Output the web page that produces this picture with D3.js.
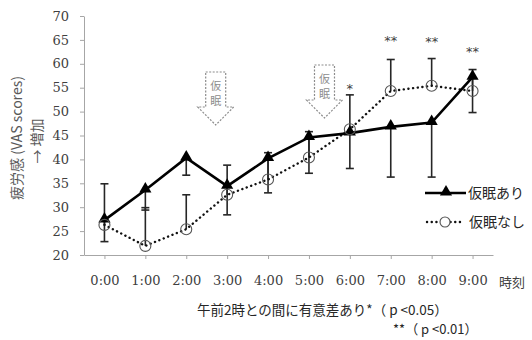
<!DOCTYPE html>
<html><head><meta charset="utf-8">
<script src="https://cdn.jsdelivr.net/npm/d3@7"></script>
<style>
body{margin:0;background:#fff;}
svg{display:block;}
</style></head>
<body><svg id="c" width="532" height="340"></svg>
<script>
const times = ["0:00","1:00","2:00","3:00","4:00","5:00","6:00","7:00","8:00","9:00"];
const napValues   = [27.3, 33.6, 40.3, 34.4, 40.2, 44.6, 45.5, 46.8, 47.7, 57.2];
const napLower    = [22.8, 29.4, 36.7, 28.4, 33.0, 37.1, 38.1, 36.3, 36.3, 49.8];
const noNapValues = [26.3, 21.9, 25.4, 32.6, 35.8, 40.4, 46.3, 54.3, 55.4, 54.3];
const noNapUpper  = [34.9, 29.9, 32.6, 38.8, 41.4, 45.8, 53.5, 60.9, 61.1, 58.8];
const yTicks = [20,25,30,35,40,45,50,55,60,65,70];
const sigMarks = [{t:"6:00", label:"*", v:55.6},{t:"7:00", label:"**", v:65.6},{t:"8:00", label:"**", v:65.4},{t:"9:00", label:"**", v:63.3}];
const napTimes = ["2:00","5:00"]; // nap arrows placed after these times
const seriesNames = ["仮眠あり","仮眠なし"];

const svg = d3.select("#c");
const x = d3.scalePoint().domain(times).range([84, 493]).padding(0.5);
const y = d3.scaleLinear().domain([20,70]).range([255, 16]);

const serif = "'DejaVu Serif', 'Liberation Serif', serif";
const jp = "'Noto Sans CJK JP', sans-serif";
const axisCol = "#a6a6a6";

// Y axis
const ya = svg.append("g").attr("transform","translate(84,0)")
  .call(d3.axisLeft(y).tickValues(yTicks).tickSize(4).tickSizeOuter(0).tickPadding(11));
ya.select(".domain").attr("stroke", axisCol);
ya.selectAll(".tick line").attr("stroke", axisCol);
ya.selectAll(".tick text").attr("font-family", serif).attr("font-size", 13).attr("fill","#404040");

// X axis
const xa = svg.append("g").attr("transform","translate(0,255)")
  .call(d3.axisBottom(x).tickSize(4).tickSizeOuter(0).tickPadding(17));
xa.select(".domain").attr("stroke", axisCol);
xa.selectAll(".tick line").attr("stroke", axisCol);
xa.selectAll(".tick text").attr("font-family", serif).attr("font-size", 13).attr("fill","#404040");

svg.append("text").attr("x", 512).attr("y", 287).attr("text-anchor","middle")
  .attr("font-family", jp).attr("font-size", 13).attr("fill","#404040").text("時刻");

// Y title
const yt = svg.append("g").attr("font-family", jp).attr("font-size", 14).attr("fill","#595959");
yt.append("text").attr("transform","translate(22,138) rotate(-90)").attr("text-anchor","middle").text("疲労感 (VAS scores)");
yt.append("text").attr("transform","translate(42,141) rotate(-90)").attr("text-anchor","middle").text("→ 増加");

// Nap arrows
napTimes.forEach((t,i)=>{
  const cx = x(t) + x.step()*(i===0 ? 0.72 : 0.38);
  const top = i===0 ? 72 : 65;
  const neck = i===0 ? 107 : 100;
  const tip = i===0 ? 125 : 118;
  const p = `M${cx-10},${top} L${cx+10},${top} L${cx+10},${neck} L${cx+18},${neck} L${cx},${tip} L${cx-18},${neck} L${cx-10},${neck} Z`;
  svg.append("path").attr("d", p).attr("fill","#fff").attr("stroke","#8c8c8c")
    .attr("stroke-width",1.2).attr("stroke-dasharray","2,1.5");
  svg.append("text").attr("x",cx).attr("y",top+18).attr("text-anchor","middle")
    .attr("font-family", jp).attr("font-size",11).attr("fill","#8c8c8c").text("仮");
  svg.append("text").attr("x",cx).attr("y",top+33).attr("text-anchor","middle")
    .attr("font-family", jp).attr("font-size",11).attr("fill","#8c8c8c").text("眠");
});

// Error bars
const eb = svg.append("g").attr("stroke","#262626").attr("stroke-width",1.6);
function errBar(t, v0, v1){
  const cx = x(t);
  eb.append("line").attr("x1",cx).attr("x2",cx).attr("y1",y(v0)).attr("y2",y(v1));
  eb.append("line").attr("x1",cx-4).attr("x2",cx+4).attr("y1",y(v1)).attr("y2",y(v1));
}
times.forEach((t,i)=>{ errBar(t, napValues[i], napLower[i]); errBar(t, noNapValues[i], noNapUpper[i]); });

// Lines
const line = d3.line().x(d=>x(d[0])).y(d=>y(d[1]));
svg.append("path").datum(times.map((t,i)=>[t,noNapValues[i]])).attr("d", line)
  .attr("fill","none").attr("stroke","#111").attr("stroke-width",2.4)
  .attr("stroke-dasharray","0.1,4.6").attr("stroke-linecap","round");
svg.append("path").datum(times.map((t,i)=>[t,napValues[i]])).attr("d", line)
  .attr("fill","none").attr("stroke","#000").attr("stroke-width",2.6);

// Markers
const tri = d3.symbol().type(d3.symbolTriangle).size(64);
svg.append("g").selectAll("path").data(times.map((t,i)=>[t,napValues[i]])).join("path")
  .attr("d", tri).attr("transform", d=>`translate(${x(d[0])},${y(d[1])-1})`).attr("fill","#000");
svg.append("g").selectAll("circle").data(times.map((t,i)=>[t,noNapValues[i]])).join("circle")
  .attr("cx", d=>x(d[0])).attr("cy", d=>y(d[1])).attr("r",5.5)
  .attr("fill","none").attr("stroke","#555").attr("stroke-width",1.1);

// Significance marks
svg.append("g").selectAll("text").data(sigMarks).join("text")
  .attr("x", d=>x(d.t)).attr("y", d=>y(d.v)+8).attr("text-anchor","middle")
  .attr("font-family", "'DejaVu Sans', sans-serif").attr("font-size",13).attr("fill","#404040")
  .text(d=>d.label);

// Legend
const lg = svg.append("g");
lg.append("line").attr("x1",425).attr("x2",466).attr("y1",193).attr("y2",193).attr("stroke","#000").attr("stroke-width",2.6);
lg.append("path").attr("d",tri).attr("transform","translate(446,192)").attr("fill","#000");
lg.append("text").attr("x",468).attr("y",198).attr("font-family",jp).attr("font-size",14).attr("fill","#262626").text(seriesNames[0]);
lg.append("line").attr("x1",427).attr("x2",464).attr("y1",222).attr("y2",222).attr("stroke","#111").attr("stroke-width",2.4)
  .attr("stroke-dasharray","0.1,4.6").attr("stroke-linecap","round");
lg.append("circle").attr("cx",445).attr("cy",222).attr("r",5).attr("fill","#fff").attr("stroke","#555").attr("stroke-width",1.1);
lg.append("text").attr("x",469).attr("y",227).attr("font-family",jp).attr("font-size",14).attr("fill","#262626").text(seriesNames[1]);

// Notes
svg.append("text").attr("x",197).attr("y",315)
  .attr("font-family",jp).attr("font-size",13.5).attr("fill","#262626").text("午前2時との間に有意差あり*（ p <0.05）");
svg.append("text").attr("x",393).attr("y",334)
  .attr("font-family",jp).attr("font-size",13).attr("fill","#262626").text("**（ p <0.01）");
</script></body></html>
